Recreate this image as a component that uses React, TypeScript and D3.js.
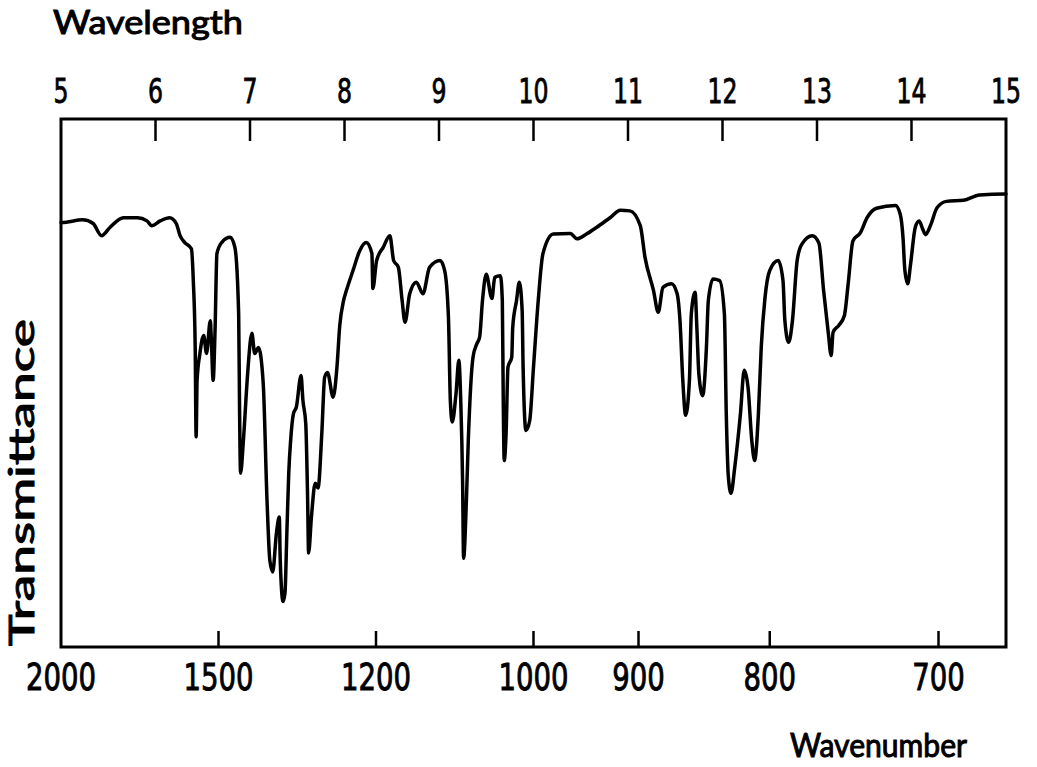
import React, { useRef, useEffect } from "react";
import * as d3 from "d3";

// IR spectrum: wavelength (um) vs transmittance (% of frame height)
const wavelength = [
  5.01, 5.23, 5.34, 5.43, 5.52, 5.66, 5.81, 5.91, 5.96, 6.05, 6.15, 6.22, 6.26, 6.31, 6.38, 6.4,
  6.42, 6.43, 6.44, 6.47, 6.51, 6.54, 6.58, 6.59, 6.61, 6.63, 6.65, 6.7, 6.79, 6.84, 6.88, 6.89,
  6.9, 6.93, 6.97, 6.98, 7.02, 7.05, 7.09, 7.14, 7.18, 7.21, 7.24, 7.28, 7.31, 7.32, 7.35, 7.37,
  7.39, 7.41, 7.43, 7.46, 7.49, 7.54, 7.56, 7.59, 7.61, 7.62, 7.65, 7.69, 7.72, 7.76, 7.79, 7.82,
  7.88, 7.92, 7.95, 7.99, 8.02, 8.09, 8.16, 8.23, 8.29, 8.3, 8.34, 8.41, 8.48, 8.52, 8.57, 8.61,
  8.64, 8.69, 8.76, 8.83, 8.9, 9.01, 9.06, 9.1, 9.12, 9.14, 9.18, 9.21, 9.23, 9.25, 9.26, 9.29,
  9.31, 9.36, 9.4, 9.43, 9.46, 9.5, 9.56, 9.59, 9.65, 9.67, 9.68, 9.69, 9.71, 9.73, 9.77, 9.78,
  9.82, 9.85, 9.88, 9.89, 9.92, 9.96, 10.0, 10.05, 10.1, 10.21, 10.39, 10.46, 10.56, 10.67, 10.81,
  10.92, 11.02, 11.13, 11.18, 11.27, 11.32, 11.37, 11.46, 11.52, 11.55, 11.58, 11.61, 11.65, 11.67,
  11.71, 11.73, 11.75, 11.79, 11.83, 11.85, 11.9, 11.97, 12.02, 12.04, 12.06, 12.09, 12.13, 12.19,
  12.23, 12.27, 12.31, 12.34, 12.38, 12.41, 12.45, 12.5, 12.59, 12.64, 12.66, 12.7, 12.74, 12.79,
  12.84, 12.95, 13.02, 13.07, 13.12, 13.15, 13.17, 13.23, 13.29, 13.33, 13.38, 13.46, 13.53, 13.63,
  13.83, 13.88, 13.91, 13.93, 13.96, 13.99, 14.04, 14.08, 14.12, 14.15, 14.2, 14.27, 14.37, 14.55,
  14.72, 14.99,
];
const transmittance = [
  80.4, 80.9, 80.2, 77.9, 79.5, 81.3, 81.3, 80.7, 79.8, 80.7, 81.3, 80.2, 77.9, 76.6, 75.4, 69.4,
  56.8, 39.8, 50.5, 55.6, 59.0, 55.6, 61.8, 58.7, 50.5, 59.9, 74.5, 76.6, 77.6, 75.7, 63.1, 44.2,
  32.9, 39.1, 50.5, 53.0, 59.4, 55.6, 56.7, 49.9, 27.8, 16.4, 14.2, 21.6, 24.6, 16.4, 8.6, 10.2,
  21.6, 32.9, 39.1, 44.2, 45.4, 51.4, 46.7, 42.3, 27.8, 17.8, 24.6, 31.0, 30.1, 40.5, 51.1, 52.0,
  47.3, 53.0, 60.9, 65.6, 67.5, 71.3, 75.0, 76.6, 74.5, 67.9, 73.2, 75.7, 77.9, 73.2, 71.9, 65.6,
  61.5, 66.9, 69.1, 66.9, 71.9, 73.2, 71.3, 62.4, 46.7, 42.6, 48.0, 54.3, 46.7, 31.0, 16.8, 27.8,
  39.1, 54.9, 57.4, 58.7, 65.6, 70.6, 66.0, 70.0, 70.3, 65.6, 46.7, 35.3, 40.5, 53.0, 54.9, 60.5,
  65.6, 69.1, 63.7, 53.0, 41.0, 42.9, 53.0, 65.6, 74.5, 78.2, 78.3, 77.3, 78.2, 79.5, 81.3,
  82.7, 82.6, 79.8, 73.8, 67.5, 63.4, 68.1, 68.8, 66.9, 61.8, 50.5, 43.9, 50.5, 63.1,
  67.2, 59.9, 51.7, 47.6, 56.8, 65.6, 69.7, 69.4, 63.1, 44.2, 32.8, 29.1, 34.1, 44.2,
  52.4, 49.2, 39.1, 35.3, 44.2, 56.8, 66.2, 71.3, 73.2, 69.4, 61.8, 57.7, 61.8, 73.2,
  76.3, 77.9, 76.5, 67.5, 59.4, 55.2, 59.6, 60.9, 62.8, 68.8, 76.9, 78.5, 81.3, 83.1,
  83.6, 82.0, 77.6, 71.3, 68.8, 72.5, 79.5, 80.7, 79.1, 78.1, 79.8, 83.2, 84.4, 84.6,
  85.6, 85.8,
];

const wavelengthTicks = [5, 6, 7, 8, 9, 10, 11, 12, 13, 14, 15];
const wavenumberTicks = [2000, 1500, 1200, 1000, 900, 800, 700];

const W = 1037;
const H = 767;
const frame = { left: 61, right: 1006, top: 119, bottom: 647 };
const digits = "'DejaVu Sans Condensed', 'DejaVu Sans', sans-serif";
const words = "Lato, sans-serif";

function Spectrum() {
  const svgRef = useRef<SVGSVGElement>(null);

  useEffect(() => {
    const svg = d3.select(svgRef.current);
    svg.selectAll("*").remove();

    const x = d3.scaleLinear().domain([5, 15]).range([frame.left, frame.right]);
    const y = d3.scaleLinear().domain([0, 100]).range([frame.bottom, frame.top]);
    // wavenumber (cm-1) = 10000 / wavelength (um)
    const xNu = (nu: number) => x(10000 / nu);

    // frame
    svg
      .append("rect")
      .attr("x", frame.left)
      .attr("y", frame.top)
      .attr("width", frame.right - frame.left)
      .attr("height", frame.bottom - frame.top)
      .attr("fill", "none")
      .attr("stroke", "#000")
      .attr("stroke-width", 3);

    // top axis: wavelength, ticks pointing in
    const top = svg.append("g");
    top
      .selectAll("line")
      .data(wavelengthTicks.slice(1, -1))
      .join("line")
      .attr("x1", (d) => x(d))
      .attr("x2", (d) => x(d))
      .attr("y1", frame.top)
      .attr("y2", frame.top + 22)
      .attr("stroke", "#000")
      .attr("stroke-width", 2.5);
    top
      .selectAll("text")
      .data(wavelengthTicks)
      .join("text")
      .attr("x", (d) => x(d))
      .attr("y", 103)
      .attr("text-anchor", "middle")
      .attr("font-family", digits)
      .attr("font-size", 34)
      .attr("stroke", "#000")
      .attr("stroke-width", 0.8)
      .attr("textLength", (d) => String(d).length * 15)
      .attr("lengthAdjust", "spacingAndGlyphs")
      .text((d) => d);

    // bottom axis: wavenumber, ticks pointing in
    const bottom = svg.append("g");
    bottom
      .selectAll("line")
      .data(wavenumberTicks.slice(1))
      .join("line")
      .attr("x1", (d) => xNu(d))
      .attr("x2", (d) => xNu(d))
      .attr("y1", frame.bottom)
      .attr("y2", frame.bottom - 16)
      .attr("stroke", "#000")
      .attr("stroke-width", 2.5);
    bottom
      .selectAll("text")
      .data(wavenumberTicks)
      .join("text")
      .attr("x", (d) => xNu(d))
      .attr("y", 690)
      .attr("text-anchor", "middle")
      .attr("font-family", digits)
      .attr("font-size", 38)
      .attr("stroke", "#000")
      .attr("stroke-width", 0.9)
      .attr("textLength", (d) => String(d).length * 17.5)
      .attr("lengthAdjust", "spacingAndGlyphs")
      .text((d) => d);

    // spectrum trace
    const pts = wavelength.map((w, i) => [w, transmittance[i]] as [number, number]);
    const line = d3
      .line<[number, number]>()
      .x((d) => x(d[0]))
      .y((d) => y(d[1]))
      .curve(d3.curveMonotoneX);
    svg
      .append("path")
      .attr("d", line([[5, pts[0][1]], ...pts, [15, pts[pts.length - 1][1]]]))
      .attr("fill", "none")
      .attr("stroke", "#000")
      .attr("stroke-width", 3.5)
      .attr("stroke-linejoin", "round")
      .attr("stroke-linecap", "round");

    // titles
    const title = (t: string, tx: string, size: number, len: number) =>
      svg
        .append("text")
        .attr("transform", tx)
        .attr("font-family", words)
        .attr("font-size", size)
        .attr("stroke", "#000")
        .attr("stroke-width", 1)
        .attr("textLength", len)
        .attr("lengthAdjust", "spacingAndGlyphs")
        .text(t);
    title("Wavelength", "translate(53,34)", 32, 190);
    title("Wavenumber", "translate(790,757)", 32, 177);
    title("Transmittance", "translate(34,646) rotate(-90)", 34, 327);
  }, []);

  return <svg ref={svgRef} width={W} height={H} style={{ display: "block" }} />;
}

export default function App() {
  return (
    <div style={{ position: "absolute", left: 0, top: 0, background: "#fff" }}>
      <Spectrum />
    </div>
  );
}
